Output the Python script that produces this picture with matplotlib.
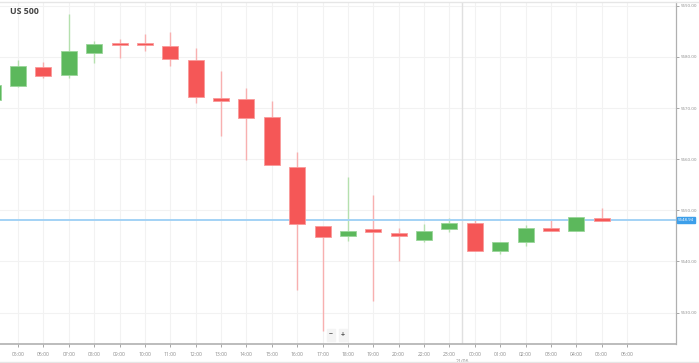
import numpy as np
import matplotlib
matplotlib.use("Agg")
from matplotlib import pyplot as plt

# hourly candles, index 0 is the half-hidden one on the left edge
hours = ["04:00", "05:00", "06:00", "07:00", "08:00", "09:00", "10:00", "11:00",
         "12:00", "13:00", "14:00", "15:00", "16:00", "17:00", "18:00", "19:00",
         "20:00", "22:00", "23:00", "00:00", "01:00", "02:00", "03:00", "04:00",
         "05:00", "06:00"]
opens = [5571.6, 5574.27, 5577.98, 5576.48, 5580.72, 5582.8, 5582.8, 5582.09,
         5579.47, 5572.04, 5571.72, 5568.2, 5558.53, 5546.99, 5544.97, 5546.28,
         5545.62, 5544.25, 5546.28, 5547.45, 5542.03, 5543.8, 5546.6, 5545.95,
         5548.49]
highs = [5575.0, 5579.35, 5579.02, 5588.47, 5583.13, 5583.52, 5584.5, 5584.95,
         5581.7, 5577.26, 5573.99, 5571.33, 5561.47, 5547.0, 5556.58, 5553.0,
         5546.48, 5547.26, 5548.43, 5548.16, 5543.8, 5547.18, 5548.1, 5548.75,
         5550.5]
lows = [5571.0, 5574.2, 5575.83, 5575.83, 5578.77, 5579.75, 5581.23, 5578.24,
        5571.06, 5564.6, 5559.84, 5558.8, 5534.4, 5526.4, 5544.05, 5532.25,
        5540.08, 5543.8, 5545.69, 5542.03, 5541.45, 5543.07, 5545.95, 5545.95,
        5547.96]
closes = [5574.5, 5578.18, 5576.22, 5581.23, 5582.54, 5582.4, 5582.4, 5579.67,
          5572.23, 5571.45, 5568.0, 5558.8, 5547.32, 5544.72, 5546.0, 5545.75,
          5545.03, 5546.0, 5547.51, 5542.03, 5543.8, 5546.6, 5545.95, 5548.75,
          5547.96]
last_price = 5548.1
last_label = "5548.94"
day_break = 18.5   # between 23:00 and 00:00
y_ticks = [5530, 5540, 5550, 5560, 5570, 5580, 5590]

UP, DOWN = "#5cb85c", "#f55757"
UP_EDGE, DOWN_EDGE = "#9ad69a", "#f99a9a"
UP_WICK, DOWN_WICK = "#b5e0ae", "#f8b0b0"

plt.rcParams['font.family'] = ['Open Sans', 'DejaVu Sans']

fig = plt.figure(figsize=(6.99, 3.63), dpi=100)
ax = fig.add_axes([0, 19 / 363, 676 / 699, 342 / 363])

x = np.arange(len(opens))
o = np.array(opens)
c = np.array(closes)
up = c >= o
body_col = np.where(up, UP, DOWN)
edge_col = np.where(up, UP_EDGE, DOWN_EDGE)
wick_col = np.where(up, UP_WICK, DOWN_WICK)

ax.vlines(x, lows, highs, colors=wick_col, lw=1.0, zorder=2)
ax.bar(x, np.abs(c - o), bottom=np.minimum(o, c), width=0.63,
       color=body_col, edgecolor=edge_col, linewidth=0.6, zorder=4)

# current price line + tag
ax.axhline(last_price, color="#a3d2f5", lw=1.4, zorder=3)
ax.text(1.003, last_price, last_label, transform=ax.get_yaxis_transform(),
        fontsize=3.2, color="white", va="center", ha="left",
        bbox=dict(boxstyle="square,pad=0.25", fc="#3d9fea", ec="#3d9fea"),
        clip_on=False, zorder=6)

# day separator
ax.axvline(day_break, color="#e0e0e0", lw=1.0, zorder=1)
ax.text(day_break, -0.045, "21/06", transform=ax.get_xaxis_transform(),
        fontsize=3.6, color="#8a8a8a", ha="center", va="top")

ax.set_xlim(0.29, 26.93)
ax.set_ylim(5523.84, 5590.76)

ax.set_xticks(x[1:].tolist() + [len(opens)])
ax.set_xticklabels(hours[1:])
ax.set_yticks(y_ticks)
ax.set_yticklabels([f"{v:.2f}" for v in y_ticks])
ax.yaxis.tick_right()
ax.tick_params(axis="x", labelsize=3.6, colors="#999999", length=2.5,
               width=0.6, pad=3, labelcolor="#8a8a8a")
ax.tick_params(axis="y", labelsize=3.2, colors="#999999", length=2,
               width=0.6, pad=1.5, labelcolor="#8a8a8a")

ax.grid(True, color="#f2f2f2", lw=0.8, zorder=0)
ax.set_axisbelow(True)
for side in ("left", "top"):
    ax.spines[side].set_visible(False)
ax.spines["right"].set_color("#b0b0b0")
ax.spines["bottom"].set_color("#b0b0b0")
ax.spines["right"].set_linewidth(0.9)
ax.spines["bottom"].set_linewidth(1.2)

ax.text(10 / 676, 1 - 10 / 342, "US 500", transform=ax.transAxes,
        fontsize=6.3, fontweight="bold", color="#444444", va="center",
        ha="left")

# zoom buttons
for label, px in (("\u2212", 331), ("+", 343)):
    ax.text(px / 676, 9 / 342, label, transform=ax.transAxes, fontsize=5,
            fontweight="bold", color="#555555", ha="center", va="center",
            bbox=dict(boxstyle="square,pad=0.3", fc="#f4f4f4", ec="#f4f4f4"))

# thin frame lines on top / bottom of the widget
fig.add_artist(plt.Line2D([0, 1], [1 - 1.5 / 363, 1 - 1.5 / 363],
                          color="#e6e6e6", lw=1.0))
fig.add_artist(plt.Line2D([0, 1], [1.5 / 363, 1.5 / 363],
                          color="#e6e6e6", lw=1.0))

fig.savefig("out.png", dpi=100, facecolor="white")
